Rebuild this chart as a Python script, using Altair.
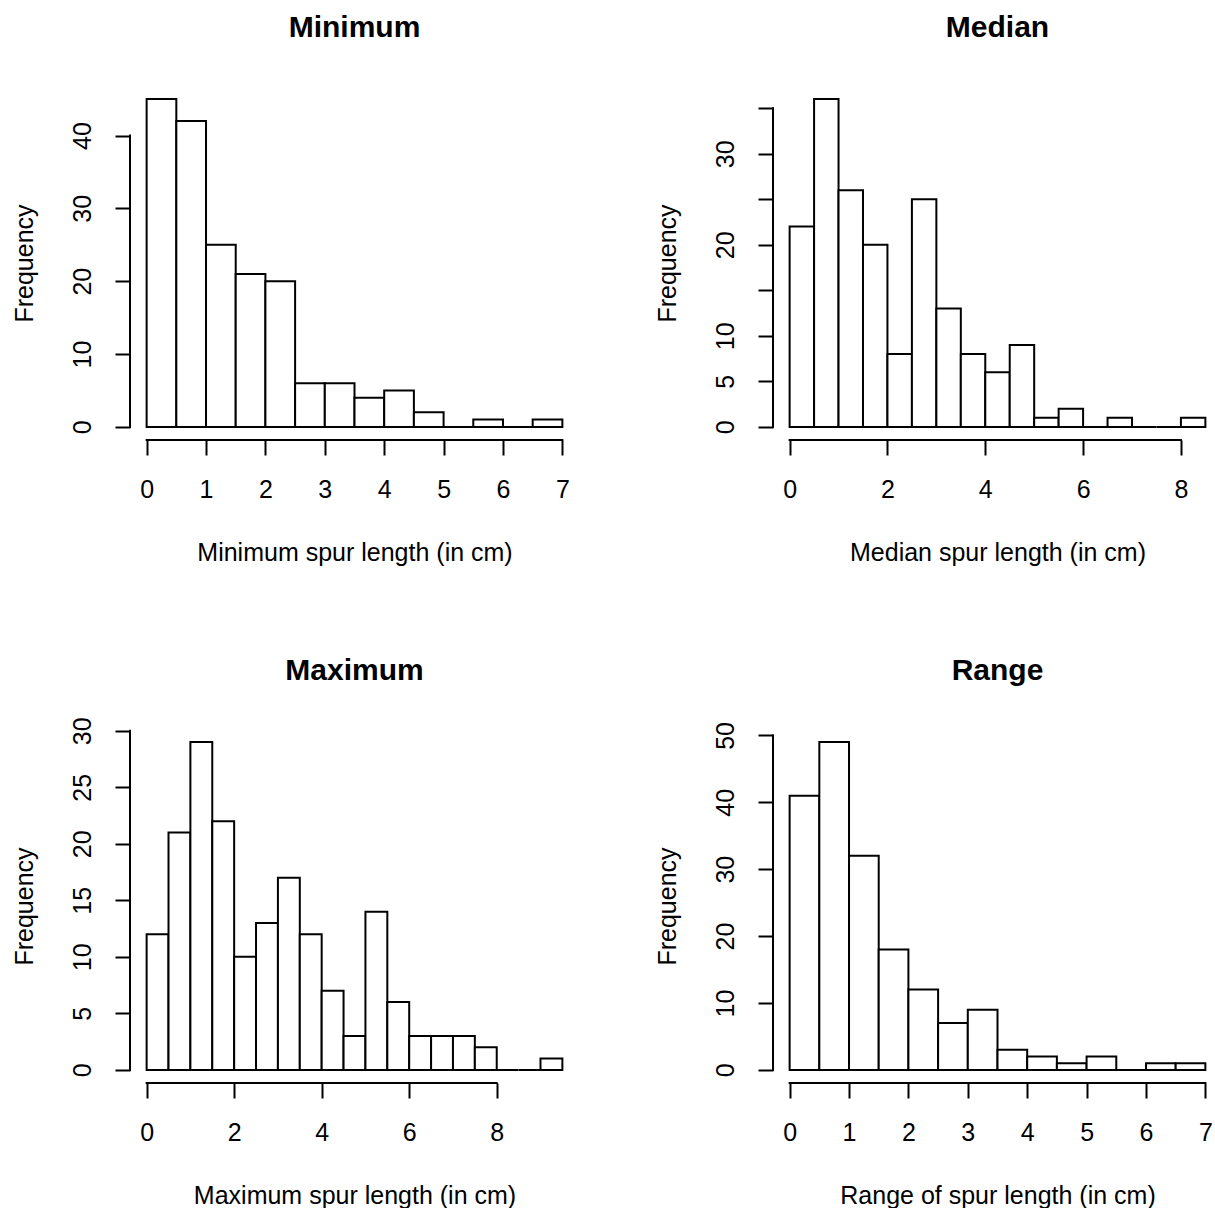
import altair as alt
import pandas as pd

# ---------------- data ----------------
BIN_WIDTH = 0.5
min_counts = [45, 42, 25, 21, 20, 6, 6, 4, 5, 2, 0, 1, 0, 1]
median_counts = [22, 36, 26, 20, 8, 25, 13, 8, 6, 9, 1, 2, 0, 1, 0, 0, 1]
max_counts = [12, 21, 29, 22, 10, 13, 17, 12, 7, 3, 14, 6, 3, 3, 3, 2, 0, 0, 1]
range_counts = [41, 49, 32, 18, 12, 7, 9, 3, 2, 1, 2, 0, 1, 1]

panel_titles = ["Minimum", "Median", "Maximum", "Range"]
x_labels = [
    "Minimum spur length (in cm)",
    "Median spur length (in cm)",
    "Maximum spur length (in cm)",
    "Range of spur length (in cm)",
]
x_ticks = [
    [0, 1, 2, 3, 4, 5, 6, 7],
    [0, 2, 4, 6, 8],
    [0, 2, 4, 6, 8],
    [0, 1, 2, 3, 4, 5, 6, 7],
]
y_ticks = [
    [0, 10, 20, 30, 40],
    [0, 5, 10, 15, 20, 25, 30, 35],
    [0, 5, 10, 15, 20, 25, 30],
    [0, 10, 20, 30, 40, 50],
]
y_hidden_labels = [[], [15, 25, 35], [], []]
y_label = "Frequency"

# ---------------- styling ----------------
FONT = "Liberation Sans"
FULL_W = 449
H = 354
RIGHT_W = 434
TICK = 15
LW = 2


def panel(title, xlabel, counts, xt, yt, hidden, w):
    n = len(counts)
    xmax = n * BIN_WIDTH
    xpad = 0.04 * xmax
    px_per = FULL_W / (xmax + 2 * xpad)
    xdom = [-xpad, -xpad + w / px_per]
    ymax = max(counts)
    ypad = 0.04 * ymax
    ydom = [-ypad, ymax + ypad]

    df = pd.DataFrame({
        "start": [i * BIN_WIDTH for i in range(n)],
        "end": [(i + 1) * BIN_WIDTH for i in range(n)],
        "count": counts,
    })
    xscale = alt.Scale(domain=xdom, nice=False, zero=False)
    yscale = alt.Scale(domain=ydom, nice=False, zero=False)

    if hidden:
        cond = " || ".join(f"datum.value == {v}" for v in hidden)
        lexpr = f"({cond}) ? '' : datum.label"
    else:
        lexpr = "datum.label"

    xaxis = alt.Axis(
        values=xt, format="d", title=xlabel, domain=False, grid=False,
        ticks=True, tickSize=TICK, tickWidth=LW, tickColor="black",
        labelFont=FONT, labelFontSize=25, labelColor="black",
        labelPadding=42, labelBaseline="alphabetic", labelAlign="center",
        labelAngle=0, labelOverlap=False, labelFlush=False,
        titleFont=FONT, titleFontSize=25, titleFontWeight="normal",
        titleColor="black", titleX=FULL_W / 2,
        titleY=120, titleBaseline="alphabetic", titleAlign="center",
    )
    yaxis = alt.Axis(
        values=yt, format="d", title=y_label, domain=False, grid=False,
        ticks=True, tickSize=TICK, tickWidth=LW, tickColor="black",
        labelFont=FONT, labelFontSize=25, labelColor="black",
        labelPadding=25, labelBaseline="alphabetic", labelAlign="center",
        labelAngle=270, labelOverlap=False, labelFlush=False,
        labelExpr=lexpr,
        titleFont=FONT, titleFontSize=25, titleFontWeight="normal",
        titleColor="black", titleAngle=270, titleX=-98, titleY=H / 2,
        titleBaseline="alphabetic", titleAlign="center",
    )

    bars = alt.Chart(df).mark_rect(
        fill="white", stroke="black", strokeWidth=LW
    ).encode(
        x=alt.X("start:Q", scale=xscale, axis=xaxis),
        x2="end:Q",
        y=alt.Y("count:Q", scale=yscale, axis=yaxis),
        y2=alt.datum(0),
    )

    xline = alt.Chart(pd.DataFrame({"a": [xt[0]], "b": [xt[-1]]})).mark_rule(
        color="black", strokeWidth=LW, strokeCap="square"
    ).encode(
        x=alt.X("a:Q", scale=xscale, axis=xaxis),
        x2="b:Q",
        y=alt.value(H),
    )
    yline = alt.Chart(pd.DataFrame({"c": [yt[0]], "d": [yt[-1]]})).mark_rule(
        color="black", strokeWidth=LW, strokeCap="square"
    ).encode(
        y=alt.Y("c:Q", scale=yscale, axis=yaxis),
        y2="d:Q",
        x=alt.value(0),
    )

    head = alt.Chart(pd.DataFrame({"t": [title]})).mark_text(
        font=FONT, fontSize=30, fontWeight="bold", color="black",
        align="center", baseline="alphabetic",
    ).encode(
        text="t:N",
        x=alt.value(FULL_W / 2),
        y=alt.value(-49),
    )

    return alt.layer(bars, xline, yline, head).properties(width=w, height=H)


all_counts = [min_counts, median_counts, max_counts, range_counts]
widths = [FULL_W, RIGHT_W, FULL_W, RIGHT_W]
panels = [
    panel(panel_titles[i], x_labels[i], all_counts[i], x_ticks[i],
          y_ticks[i], y_hidden_labels[i], widths[i])
    for i in range(4)
]

chart = alt.concat(
    *panels, columns=2, spacing={"row": 289, "column": 194}, bounds="flush"
).properties(
    padding={"left": 12, "top": 13, "right": 0, "bottom": 0},
    background="white",
).configure_view(stroke=None)

chart.save("out.html", embed_options={"renderer": "svg", "actions": False})
